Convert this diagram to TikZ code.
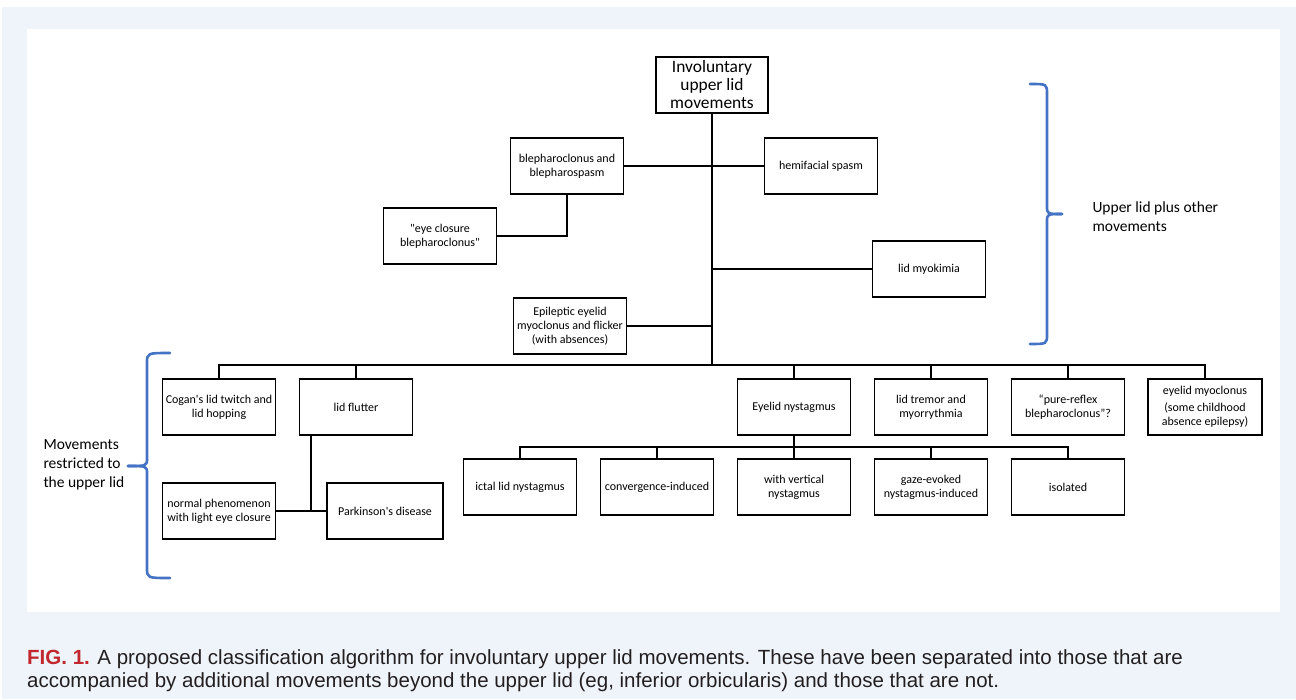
\documentclass[tikz,border=0pt]{standalone}
\usepackage{fontspec}
\setmainfont{Carlito}[Ligatures=TeXOff]
\newfontfamily\capfont{Liberation Sans}
\usetikzlibrary{positioning,calc}
\definecolor{panelblue}{RGB}{239,244,251}
\definecolor{bracketblue}{RGB}{68,114,196}
\definecolor{figred}{RGB}{193,39,45}
\definecolor{captext}{RGB}{35,31,32}

\begin{document}
\begin{tikzpicture}[x=1pt,y=-1pt,
  box/.style={draw, line width=1.2pt, minimum width=113pt, minimum height=56pt,
    inner sep=1pt, align=center, font=\fontsize{12}{14}\selectfont},
  link/.style={line width=1.8pt},
  bracket/.style={draw=bracketblue, line width=2.6pt, line cap=round},
  bracelabel/.style={anchor=west, align=left, font=\fontsize{15.5}{19}\selectfont}]
  % Page and panels
  \useasboundingbox (0,0) rectangle (1296,699);
  \fill[white] (0,0) rectangle (1296,699);
  \fill[panelblue] (2,7) rectangle (1296,699);
  \fill[white] (27,29) rectangle (1280,612);

  % Root and the upper group
  \node[box, minimum width=112pt, font=\fontsize{17.4}{18}\selectfont] (root) at (712,85) {Involuntary\\upper lid\\movements};
  \node[box] (bleph) at (567,166) {blepharoclonus and\\blepharospasm};
  \node[box] (hemi) at (821,166) {hemifacial spasm};
  \node[box] (eyecl) at (440,236) {"eye closure\\blepharoclonus"};
  \node[box] (myok) at (929,269) {lid myokimia};
  \node[box] (epil) at (570,326) {Epileptic eyelid\\myoclonus and flicker\\(with absences)};

  % Lower row
  \node[box] (cogan) at (219,407) {Cogan's lid twitch and\\lid hopping};
  \node[box] (flutter) at (356,407) {lid flutter};
  \node[box] (nyst) at (794,407) {Eyelid nystagmus};
  \node[box] (tremor) at (931,407) {lid tremor and\\myorrythmia};
  \node[box] (reflex) at (1068,407) {“pure-reflex\\blepharoclonus”?};
  \node[box, minimum width=114pt] (myoclon) at (1205,407) {eyelid myoclonus\\[3pt](some childhood\\absence epilepsy)};

  % Nystagmus subtypes
  \node[box] (ictal) at (520,487) {ictal lid nystagmus};
  \node[box] (conv) at (657,487) {convergence-induced};
  \node[box] (vert) at (794,487) {with vertical\\nystagmus};
  \node[box] (gaze) at (931,487) {gaze-evoked\\nystagmus-induced};
  \node[box] (isol) at (1068,487) {isolated};

  % Lid flutter children
  \node[box] (normal) at (219,511) {normal phenomenon\\with light eye closure};
  \node[box, minimum width=116pt] (park) at (385,511) {Parkinson's disease};

  % Junctions
  \coordinate (bar) at (712,365);
  \coordinate (nbar) at (794,447);
  \coordinate (fl) at (311,511);

  % Trunk and side branches
  \draw[link, line width=2.2pt] (root.south) -- (bar);
  \draw[link] (bleph.east) -- (hemi.west);
  \draw[link] (bleph.south) |- (eyecl.east);
  \draw[link] (myok.west) -- (myok.west -| root);
  \draw[link] (epil.east) -- (epil.east -| root);

  % Main bar to the lower row
  \draw[link, line width=2.2pt] (cogan.north) |- (bar) -| (myoclon.north);
  \foreach \n in {flutter,nyst,tremor,reflex}
    \draw[link] (\n.north) -- (\n.north |- bar);

  % Nystagmus bar
  \draw[link, line width=2.2pt] (nyst.south) -- (nbar);
  \draw[link] (ictal.north) |- (nbar) -| (isol.north);
  \foreach \n in {conv,vert,gaze}
    \draw[link] (\n.north) -- (\n.north |- nbar);

  % Lid flutter branch
  \draw[link] (flutter.south -| fl) -- (fl);
  \draw[link] (normal.east) -- (park.west);

  % Brackets
  \draw[bracket] (1030,84) .. controls (1047,84) .. (1047,94) -- (1047,206) .. controls (1047,214) .. (1062,214);
  \draw[bracket] (1062,214) .. controls (1047,214) .. (1047,222) -- (1047,334) .. controls (1047,344) .. (1030,344);
  \draw[bracket] (170,353) .. controls (147,353) .. (147,363) -- (147,458) .. controls (147,466) .. (128,466);
  \draw[bracket] (128,466) .. controls (147,466) .. (147,474) -- (147,568) .. controls (147,578) .. (170,578);
  \node[bracelabel] (upper) at (1089,217) {Upper lid plus other\\movements};
  \node[bracelabel] (restr) at (40,465) {Movements\\restricted to\\the upper lid};

  % Caption
  \node[anchor=north west, align=left, inner sep=0pt, text=captext,
    font=\capfont\fontsize{20.5}{23.5}\selectfont] (caption) at (27,649)
    {\textcolor{figred}{\bfseries FIG. 1.} A proposed classification algorithm for involuntary upper lid movements. These have been separated into those that are\\accompanied by additional movements beyond the upper lid (eg, inferior orbicularis) and those that are not.};
\end{tikzpicture}
\end{document}
